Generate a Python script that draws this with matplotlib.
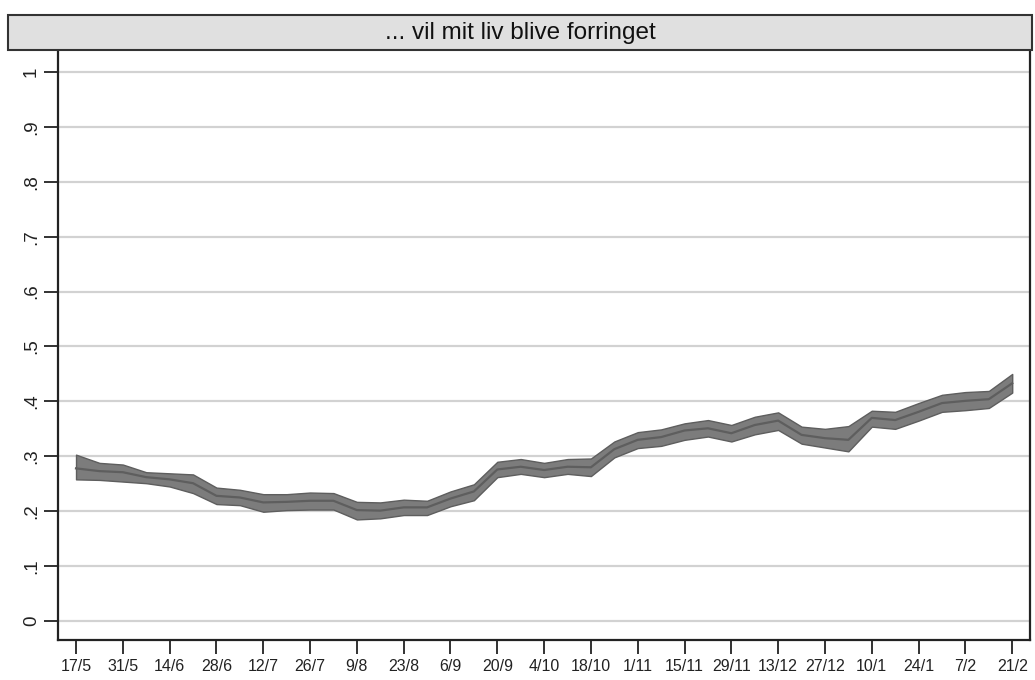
import numpy as np
import matplotlib
matplotlib.use("Agg")
import matplotlib.pyplot as plt
from matplotlib.patches import Rectangle

plt.rcParams['font.family'] = ['Liberation Sans', 'DejaVu Sans']

title = "... vil mit liv blive forringet"

# tick labels every second week
tick_labels = ["17/5", "31/5", "14/6", "28/6", "12/7", "26/7", "9/8", "23/8", "6/9",
               "20/9", "4/10", "18/10", "1/11", "15/11", "29/11", "13/12", "27/12",
               "10/1", "24/1", "7/2", "21/2"]

# weekly estimates, 17/5 .. 21/2
mid = [0.278, 0.273, 0.271, 0.262, 0.258, 0.251, 0.228, 0.225, 0.216, 0.217,
       0.219, 0.219, 0.202, 0.201, 0.207, 0.207, 0.223, 0.236, 0.276, 0.281,
       0.275, 0.281, 0.280, 0.313, 0.330, 0.335, 0.347, 0.351, 0.342, 0.357,
       0.365, 0.339, 0.333, 0.330, 0.370, 0.366, 0.381, 0.397, 0.401, 0.404,
       0.433]
upper = [0.303, 0.288, 0.285, 0.271, 0.269, 0.267, 0.243, 0.239, 0.231, 0.231,
         0.234, 0.233, 0.217, 0.216, 0.221, 0.219, 0.236, 0.249, 0.290, 0.295,
         0.288, 0.295, 0.296, 0.327, 0.344, 0.349, 0.360, 0.366, 0.357, 0.372,
         0.380, 0.354, 0.350, 0.355, 0.383, 0.381, 0.397, 0.412, 0.417, 0.419,
         0.450]
lower = [0.258, 0.257, 0.254, 0.251, 0.245, 0.233, 0.213, 0.211, 0.199, 0.202,
         0.203, 0.203, 0.185, 0.187, 0.193, 0.193, 0.209, 0.220, 0.262, 0.268,
         0.262, 0.268, 0.264, 0.298, 0.315, 0.319, 0.330, 0.336, 0.327, 0.340,
         0.348, 0.323, 0.316, 0.309, 0.354, 0.350, 0.365, 0.381, 0.384, 0.388,
         0.416]

x = np.arange(len(mid))

fig = plt.figure(figsize=(10.35, 6.8), dpi=100)
ax = fig.add_axes([58/1035, 40/680, 972/1035, 588/680])

#---------------band + mean line---------------
ax.fill_between(x, lower, upper, facecolor='#7c7c7c', edgecolor='#5e5e5e', linewidth=1.0, zorder=3)
ax.plot(x, mid, color='#5e5e5e', linewidth=1.6, zorder=4)

#---------------axes---------------
ax.set_ylim(-0.0346, 1.0364)
ax.set_xlim(-0.77, 40.76)
yt = np.round(np.arange(0, 1.01, 0.1), 1)
ax.set_yticks(yt)
ax.set_yticklabels(["0" if v == 0 else ("1" if v == 1 else ("%.1f" % v)[1:]) for v in yt],
                   rotation=90, va='center', fontsize=13.5, color='#222222')
ax.set_xticks(x[::2])
ax.set_xticklabels(tick_labels, fontsize=11.5, color='#1a1a1a')
ax.grid(axis='y', color='#d2d2d2', linewidth=1.6, zorder=0)
ax.tick_params(axis='y', length=10, width=1.3, pad=3, colors='#222222')
ax.tick_params(axis='x', length=10, width=1.3, pad=4, colors='#222222')
for s in ax.spines.values():
    s.set_linewidth(1.6)
    s.set_color('#222222')
ax.spines['top'].set_visible(False)

#---------------title bar---------------
fig.patches.append(Rectangle((8/1035, 630/680), 1024/1035, 35/680, transform=fig.transFigure,
                             facecolor='#e0e0e0', edgecolor='#333333', linewidth=1.5, zorder=5))
fig.text(520/1035, 647/680, title, ha='center', va='center', fontsize=17.5, color='#111111', zorder=6)

fig.savefig("out.png", dpi=100)
